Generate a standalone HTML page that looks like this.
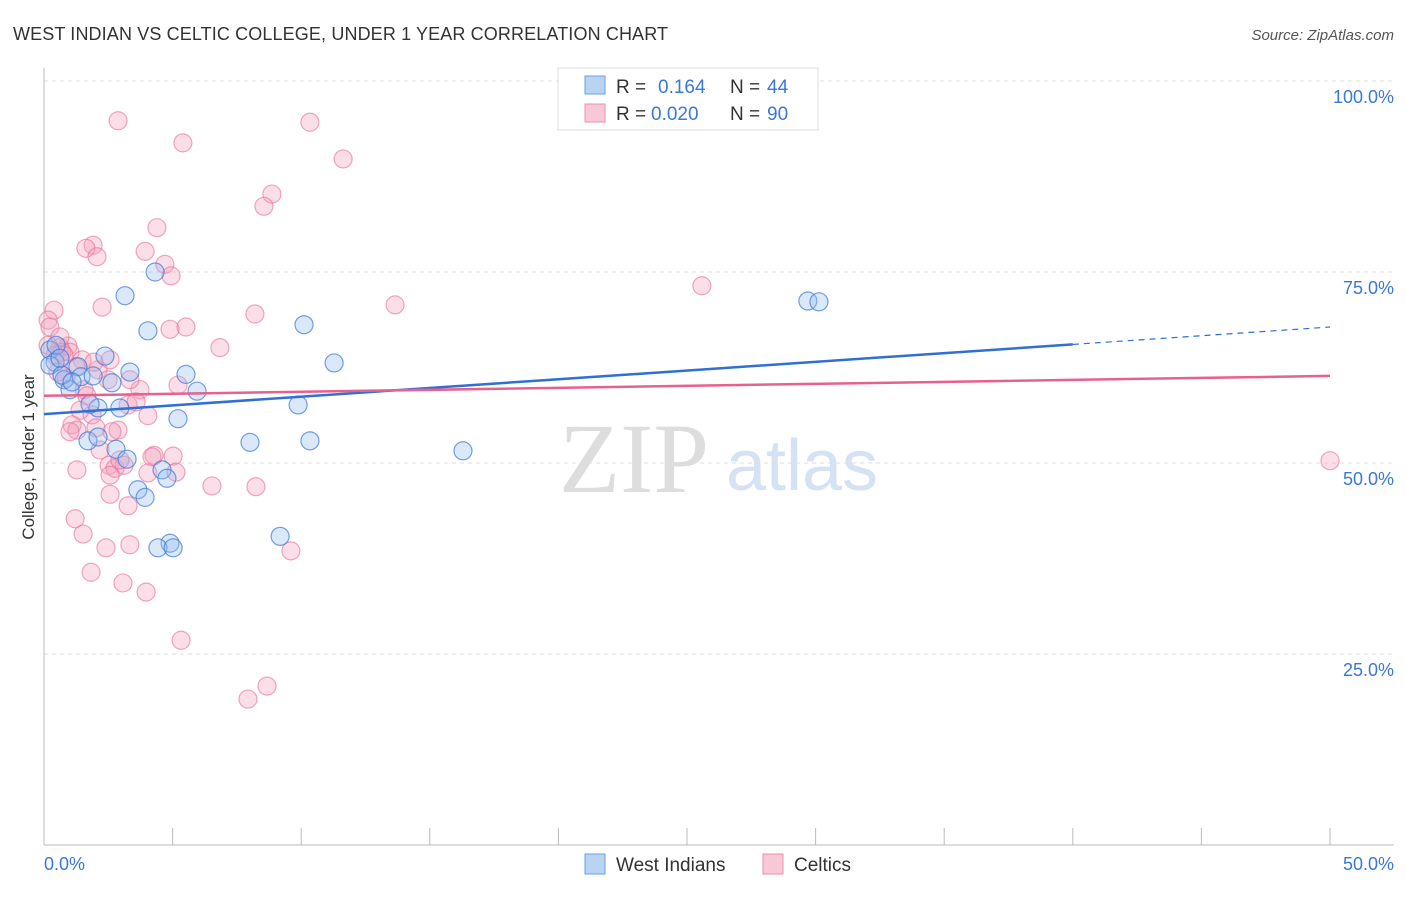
<!DOCTYPE html>
<html><head><meta charset="utf-8">
<style>
body{margin:0;background:#fff;font-family:"Liberation Sans",sans-serif;}
svg text{font-family:"Liberation Sans",sans-serif;}
</style></head>
<body>
<svg id="chart" width="1406" height="892" xmlns="http://www.w3.org/2000/svg">
<text x="13" y="40" font-size="18" fill="#333" textLength="655">WEST INDIAN VS CELTIC COLLEGE, UNDER 1 YEAR CORRELATION CHART</text>
<text x="1394" y="40" font-size="15" fill="#555" text-anchor="end" font-style="italic">Source: ZipAtlas.com</text>
<g>
<text x="634" y="492" font-size="100" fill="#ddd" style="font-family:'Liberation Serif',serif" text-anchor="middle">ZIP</text>
<text x="802" y="490" font-size="72" fill="#d4e2f4" text-anchor="middle">atlas</text>
</g>
<g id="grid"></g>
<g id="axes"></g>
<g id="pts"></g>
<g id="lines"></g>
<text transform="translate(34,457) rotate(-90)" font-size="17" fill="#333" text-anchor="middle">College, Under 1 year</text>
<g>
<rect x="558" y="68" width="260" height="62" fill="#fff" stroke="#ddd"/>
<rect x="585" y="76" width="20" height="18" fill="#b9d3f3" stroke="#6a9fe0"/>
<text x="616" y="93" font-size="19" fill="#333">R = </text><text x="658" y="93" font-size="19" fill="#3a78d8">0.164</text>
<text x="730" y="93" font-size="19" fill="#333">N = </text><text x="767" y="93" font-size="19" fill="#3a78d8">44</text>
<rect x="585" y="104" width="20" height="18" fill="#f9c8d7" stroke="#ec8fae"/>
<text x="616" y="120" font-size="19" fill="#333">R = </text><text x="651" y="120" font-size="19" fill="#3a78d8">0.020</text>
<text x="730" y="120" font-size="19" fill="#333">N = </text><text x="767" y="120" font-size="19" fill="#3a78d8">90</text>
</g>
<g>
<rect x="585" y="854" width="20" height="20" fill="#b9d3f3" stroke="#6a9fe0"/>
<text x="616" y="871" font-size="19" fill="#333">West Indians</text>
<rect x="763" y="854" width="20" height="20" fill="#f9c8d7" stroke="#ec8fae"/>
<text x="794" y="871" font-size="19" fill="#333">Celtics</text>
</g>
</svg>
<script>
const yTicks=[25,50,75,100];
const yTickLabels=["25.0%","50.0%","75.0%","100.0%"];
const xTicks=[0,5,10,15,20,25,30,35,40,45,50];
const blueX=[4.32,3.15,4.04,10.11,11.28,2.37,5.52,3.34,5.95,2.64,1.32,0.23,0.43,0.78,1.01,1.44,1.91,2.10,2.95,5.21,9.88,8.01,10.34,16.29,1.71,2.10,2.80,3.23,4.59,4.78,3.65,3.93,4.90,4.43,5.02,9.18,29.70,30.13,0.47,0.23,0.70,1.09,0.62,1.79];
const blueY=[75.0,71.9,67.3,68.1,63.1,64.0,61.6,61.9,59.4,60.5,62.6,64.8,63.2,60.9,59.6,61.3,61.4,57.2,57.2,55.8,57.6,52.7,52.9,51.6,52.9,53.4,51.8,50.5,49.1,48.0,46.5,45.5,39.5,38.9,38.9,40.4,71.2,71.1,65.4,62.8,61.5,60.6,63.7,57.7];
const pinkX=[2.88,5.40,10.34,11.63,8.86,8.55,4.39,1.91,1.63,2.06,3.93,4.70,4.94,13.65,25.58,2.26,8.20,5.52,4.90,0.39,0.16,0.23,6.84,0.62,0.93,1.01,0.16,0.43,0.70,1.48,1.24,2.10,2.49,0.86,0.54,5.21,3.73,1.56,1.40,1.87,3.27,4.04,1.09,1.28,1.01,2.88,2.64,2.02,2.18,4.28,4.20,5.02,2.53,2.76,3.11,5.13,1.28,2.57,4.04,6.53,8.24,2.57,3.27,1.21,1.52,2.41,3.34,9.60,1.83,3.07,3.97,5.33,8.67,7.93,50.0,0.62,0.78,2.57,3.58,1.67,2.95,1.94,3.34];
const pinkY=[94.8,91.9,94.6,89.8,85.2,83.6,80.8,78.5,78.1,77.0,77.7,76.0,74.5,70.7,73.2,70.4,69.5,67.8,67.5,70.0,68.7,67.8,65.1,65.1,65.3,64.5,65.4,64.1,64.5,63.5,62.6,62.2,60.9,61.1,61.9,60.2,59.6,59.6,56.9,56.3,57.6,56.2,55.0,54.3,54.1,54.3,54.1,54.6,51.7,51.0,50.8,50.9,49.7,49.3,49.7,48.8,49.1,48.4,48.7,47.0,46.9,45.9,44.4,42.7,40.7,38.9,39.3,38.5,35.7,34.3,33.1,26.8,20.8,19.1,50.3,66.5,64.1,63.5,58.0,58.8,50.4,63.2,60.9];
const blueTrend=[56.4,67.8];
const pinkTrend=[58.8,61.4];
const NS="http://www.w3.org/2000/svg";
const X=v=>44+v/50*1286, Y=v=>845-v/100*764;
function mk(tag,attrs,parent){const e=document.createElementNS(NS,tag);for(const k in attrs)e.setAttribute(k,attrs[k]);parent.appendChild(e);return e;}
const grid=document.getElementById('grid'),axes=document.getElementById('axes'),pts=document.getElementById('pts'),lines=document.getElementById('lines');
yTicks.forEach((t,i)=>{
 const l=mk('line',{x1:44,x2:1394,y1:Y(t),y2:Y(t),stroke:'#ddd','stroke-dasharray':'4,4'},grid);
 
 
 const tx=mk('text',{x:1394,y:Y(t)+22,'font-size':18,fill:'#3a78d8','text-anchor':'end'},axes);
 tx.textContent=yTickLabels[i];
 
 
});
let a=mk('line',{x1:44,x2:44,y1:68,y2:845,stroke:'#bbb'},axes);


a=mk('line',{x1:44,x2:1394,y1:845,y2:845,stroke:'#bbb'},axes);


xTicks.forEach(t=>{
 const l=mk('line',{x1:X(t),x2:X(t),y1:828,y2:845,stroke:'#bbb'},axes);
 
 
});
let t0=mk('text',{x:44,y:870,'font-size':18,fill:'#3a78d8'},axes);t0.textContent='0.0%';


let t1=mk('text',{x:1394,y:870,'font-size':18,fill:'#3a78d8','text-anchor':'end'},axes);t1.textContent='50.0%';


pinkX.forEach((x,i)=>{
 const c=mk('circle',{cx:X(x),cy:Y(pinkY[i]),r:9,fill:'rgba(244,160,188,0.35)',stroke:'rgba(232,110,150,0.6)','stroke-width':1.2},pts);
 
 
});
blueX.forEach((x,i)=>{
 const c=mk('circle',{cx:X(x),cy:Y(blueY[i]),r:9,fill:'rgba(150,190,240,0.35)',stroke:'rgba(60,120,215,0.7)','stroke-width':1.2},pts);
 
 
});
const bAt=x=>blueTrend[0]+(blueTrend[1]-blueTrend[0])*x/50;
let bl=mk('line',{x1:X(0),y1:Y(bAt(0)),x2:X(40),y2:Y(bAt(40)),stroke:'#2f6fd6','stroke-width':2.5},lines);


bl=mk('line',{x1:X(40),y1:Y(bAt(40)),x2:X(50),y2:Y(bAt(50)),stroke:'#2f6fd6','stroke-width':1.2,'stroke-dasharray':'6,5'},lines);


const pl=mk('line',{x1:X(0),y1:Y(pinkTrend[0]),x2:X(50),y2:Y(pinkTrend[1]),stroke:'#e8608e','stroke-width':2.5},lines);


</script>
</body></html>
